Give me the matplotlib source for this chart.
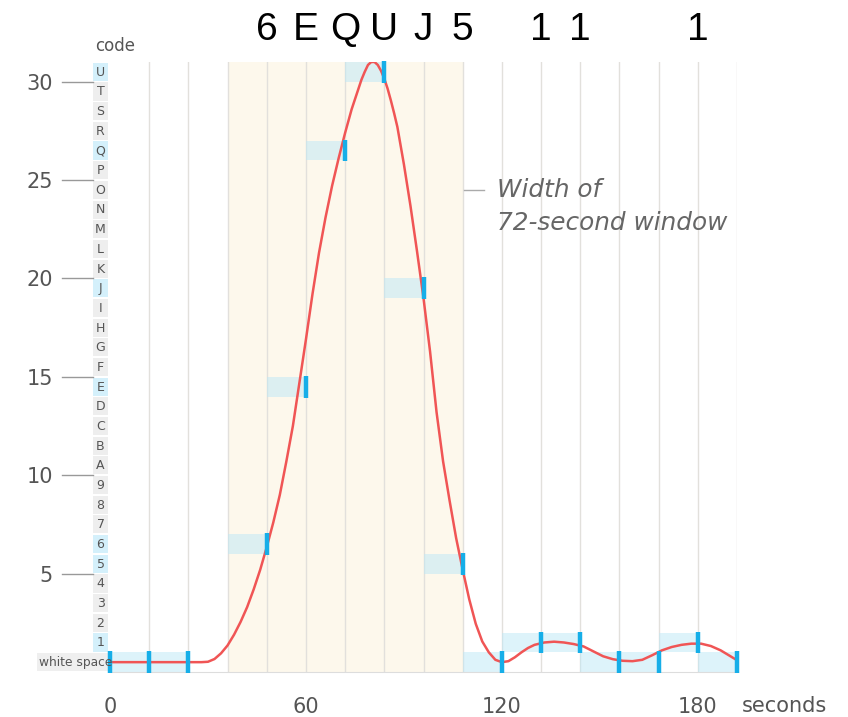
import matplotlib
matplotlib.use("Agg")
from matplotlib import pyplot as plt
from matplotlib.patches import Rectangle
from matplotlib.transforms import blended_transform_factory

# code alphabet: 0 = white space, 1-9, then A-U (10-30)
CODES = ["white space"] + [str(i) for i in range(1, 10)] + [chr(ord("A") + i) for i in range(21)]

# samples: time (s) and decoded code value, each covers the 12 s before it
sample_times = [0, 12, 24, 48, 60, 72, 84, 96, 108, 120, 132, 144, 156, 168, 180, 192]
sample_codes = [0, 0, 0, 6, 14, 26, 30, 19, 5, 0, 1, 1, 0, 0, 1, 0]

# smoothed signal intensity
curve_t = [0, 10, 20, 28, 30, 32, 34, 36, 38, 40, 42, 44, 46, 48, 50, 52, 54, 56, 58,
           60, 62, 64, 66, 68, 70, 72, 74, 75, 76, 77, 78, 79, 80, 81, 82, 83, 84, 85,
           86, 87, 88, 90, 92, 94, 96, 98, 100, 102, 104, 106, 108, 110, 112, 114, 116,
           118, 120, 122, 124, 126, 128, 130, 133, 136, 139, 142, 145, 148, 151, 154,
           157, 160, 163, 166, 169, 172, 175, 178, 181, 184, 187, 190, 192]
curve_v = [0.5, 0.5, 0.5, 0.5, 0.52, 0.66, 0.95, 1.35, 1.9, 2.55, 3.3, 4.2, 5.2, 6.35,
           7.6, 9.0, 10.7, 12.5, 14.7, 16.9, 19.2, 21.3, 23.1, 24.7, 26.1, 27.4, 28.6,
           29.1, 29.6, 30.1, 30.5, 30.85, 31.0, 31.0, 30.85, 30.55, 30.15, 29.65, 29.05,
           28.4, 27.7, 25.8, 23.7, 21.4, 19.0, 16.3, 13.2, 10.7, 8.7, 6.8, 5.2, 3.7,
           2.45, 1.55, 1.0, 0.62, 0.5, 0.55, 0.75, 1.0, 1.22, 1.38, 1.5, 1.54, 1.5,
           1.42, 1.3, 1.05, 0.8, 0.65, 0.57, 0.55, 0.62, 0.85, 1.1, 1.27, 1.38, 1.44,
           1.44, 1.32, 1.1, 0.8, 0.6]

WINDOW = (36, 108)
GRID_X = list(range(12, 193, 12))
X_TICKS = [0, 60, 120, 180]
Y_TICKS = [5, 10, 15, 20, 25, 30]

GRAY = "#555555"

fig = plt.figure(figsize=(8.48, 7.17), dpi=100)
ax = fig.add_axes([110 / 848, 1 - 672 / 717, 627 / 848, 610 / 717])
ax.set_xlim(0, 192)
ax.set_ylim(0, 31)

for s in ["top", "right", "left"]:
    ax.spines[s].set_visible(False)
ax.spines["bottom"].set_color("#dddddd")

ax.axvspan(*WINDOW, color="#fdf8ec", zorder=0, lw=0)
for gx in GRID_X:
    ax.axvline(gx, color="#e2e0dc", lw=1, zorder=1)

# sample boxes and markers
for t, c in zip(sample_times, sample_codes):
    ax.add_patch(Rectangle((t - 12, c), 12, 1, facecolor="#bde8f7", alpha=0.5,
                           lw=0, zorder=2))
ax.plot(curve_t, curve_v, color="#f05555", lw=1.8, zorder=3, solid_capstyle="round",
        solid_joinstyle="round")
ax.vlines(sample_times, [c - 0.05 for c in sample_codes], [c + 1.05 for c in sample_codes],
          color="#16aee8", lw=3.2, zorder=4, clip_on=False)

# code column
used = set(sample_codes)
for i, name in enumerate(CODES):
    fc = "#d4f0fb" if i in used and i != 0 else "#eeeeee"
    if i == 0:
        ax.add_patch(Rectangle((-22.3, 0.04), 21.8, 0.92, facecolor="#efefef", lw=0,
                               clip_on=False, zorder=2))
        ax.text(0.7, 0.48, name, ha="right", va="center", fontsize=8.8, color=GRAY,
                zorder=5, clip_on=False)
    else:
        ax.add_patch(Rectangle((-5.3, i + 0.04), 4.8, 0.92, facecolor=fc, lw=0,
                               clip_on=False, zorder=2))
        ax.text(-2.9, i + 0.48, name, ha="center", va="center", fontsize=9, color=GRAY,
                clip_on=False)
ax.text(1.5, 31.8, "code", ha="center", va="center", fontsize=12, color=GRAY)

# y ticks: short gray leaders ending at the code column
for v in Y_TICKS:
    ax.plot([-14.7, -5.3], [v, v], color="#999999", lw=1, clip_on=False)
ax.set_yticks(Y_TICKS)
ax.set_yticklabels([str(v) for v in Y_TICKS])
ax.tick_params(axis="y", length=0, pad=41, labelsize=15, labelcolor=GRAY)
ax.set_xticks(X_TICKS)
ax.set_xticklabels([str(v) for v in X_TICKS])
ax.tick_params(axis="x", length=0, pad=18, labelsize=15, labelcolor=GRAY)

trans = blended_transform_factory(ax.transData, ax.transAxes)
ax.text(193.5, -0.0557, "seconds", transform=trans, ha="left", va="center",
        fontsize=15, color=GRAY)

# decoded message on top
for t, c in zip(sample_times, sample_codes):
    if c != 0:
        ax.text(t, 1.052, CODES[c], transform=trans, ha="center", va="center",
                fontsize=28, family="Liberation Sans", color="black")

# window annotation
ax.plot([108.3, 114.5], [24.5, 24.5], color="#aaaaaa", lw=1, zorder=3)
ax.text(118.5, 24.5, "Width of", ha="left", va="center", fontsize=17.8,
        style="italic", color="#666666")
ax.text(118.5, 22.8, "72-second window", ha="left", va="center", fontsize=17.8,
        style="italic", color="#666666")

fig.savefig("out.png", dpi=100)
